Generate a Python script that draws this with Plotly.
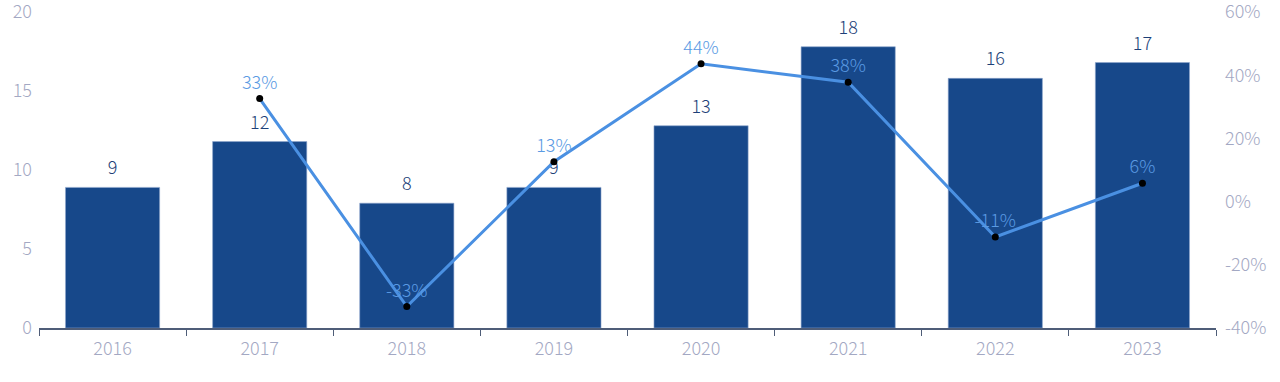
import plotly.graph_objects as go

years = ["2016", "2017", "2018", "2019", "2020", "2021", "2022", "2023"]
values = [8.9, 11.8, 7.9, 8.9, 12.8, 17.8, 15.8, 16.8]
growth_years = ["2017", "2018", "2019", "2020", "2021", "2022", "2023"]
growth = [32.6, -33.2, 12.6, 43.6, 37.8, -11.2, 5.8]
bar_labels = ["9", "12", "8", "9", "13", "18", "16", "17"]
growth_labels = ["33%", "-33%", "13%", "44%", "38%", "-11%", "6%"]
left_ticks = [0, 5, 10, 15, 20]
right_ticks = [-40, -20, 0, 20, 40, 60]
right_tick_text = ["-40%", "-20%", "0%", "20%", "40%", "60%"]

FONT = "Noto Sans CJK SC"
TICK_COLOR = "#a3a8c3"

fig = go.Figure()
fig.add_trace(go.Bar(
    x=years, y=values,
    width=0.64,
    marker=dict(color="#17488a", line=dict(color="#8fa6cc", width=0.6)),
    yaxis="y",
    hoverinfo="skip",
))
# bar value labels (placed above bars with a small gap)
fig.add_trace(go.Scatter(
    x=years, y=values,
    mode="markers+text",
    marker=dict(size=12, opacity=0),
    text=bar_labels, textposition="top center",
    textfont=dict(family=FONT, size=18, color="#1d3f78", weight=300),
    cliponaxis=False,
    yaxis="y",
    hoverinfo="skip",
))
fig.add_trace(go.Scatter(
    x=growth_years, y=growth,
    mode="lines+markers+text",
    line=dict(color="#4a90e2", width=3),
    marker=dict(color="#000000", size=7),
    text=growth_labels, textposition="top center",
    textfont=dict(family=FONT, size=18, color="#5a9ae3", weight=300),
    cliponaxis=False,
    yaxis="y2",
))

fig.update_layout(
    width=1280, height=382,
    margin=dict(l=39, r=64, t=12, b=54, autoexpand=False),
    paper_bgcolor="white", plot_bgcolor="white",
    showlegend=False,
    font=dict(family=FONT, size=18, color=TICK_COLOR, weight=300),
    xaxis=dict(
        type="category", automargin=False,
        showline=True, linecolor="#4f5d78", linewidth=1.5,
        ticks="outside", tickson="boundaries", ticklen=6, tickcolor="#4f5d78",
        showgrid=False,
        tickfont=dict(family=FONT, size=18, color=TICK_COLOR, weight=300),
        ticklabelstandoff=4,
        range=[-0.5, 7.5],
    ),
    yaxis=dict(
        range=[0, 20], tickvals=left_ticks, automargin=False,
        showgrid=False, zeroline=False, showline=False,
        tickfont=dict(family=FONT, size=18, color=TICK_COLOR, weight=300),
        ticklabelstandoff=6, ticklabeloverflow="allow",
    ),
    yaxis2=dict(
        range=[-40, 60], tickvals=right_ticks, ticktext=right_tick_text,
        overlaying="y", side="right", automargin=False,
        showgrid=False, zeroline=False, showline=False,
        tickfont=dict(family=FONT, size=18, color=TICK_COLOR, weight=300),
        ticklabelstandoff=8, ticklabeloverflow="allow",
    ),
)

fig.write_html("out.html", config={"displayModeBar": False},
               post_script="document.body.style.margin='0';")
